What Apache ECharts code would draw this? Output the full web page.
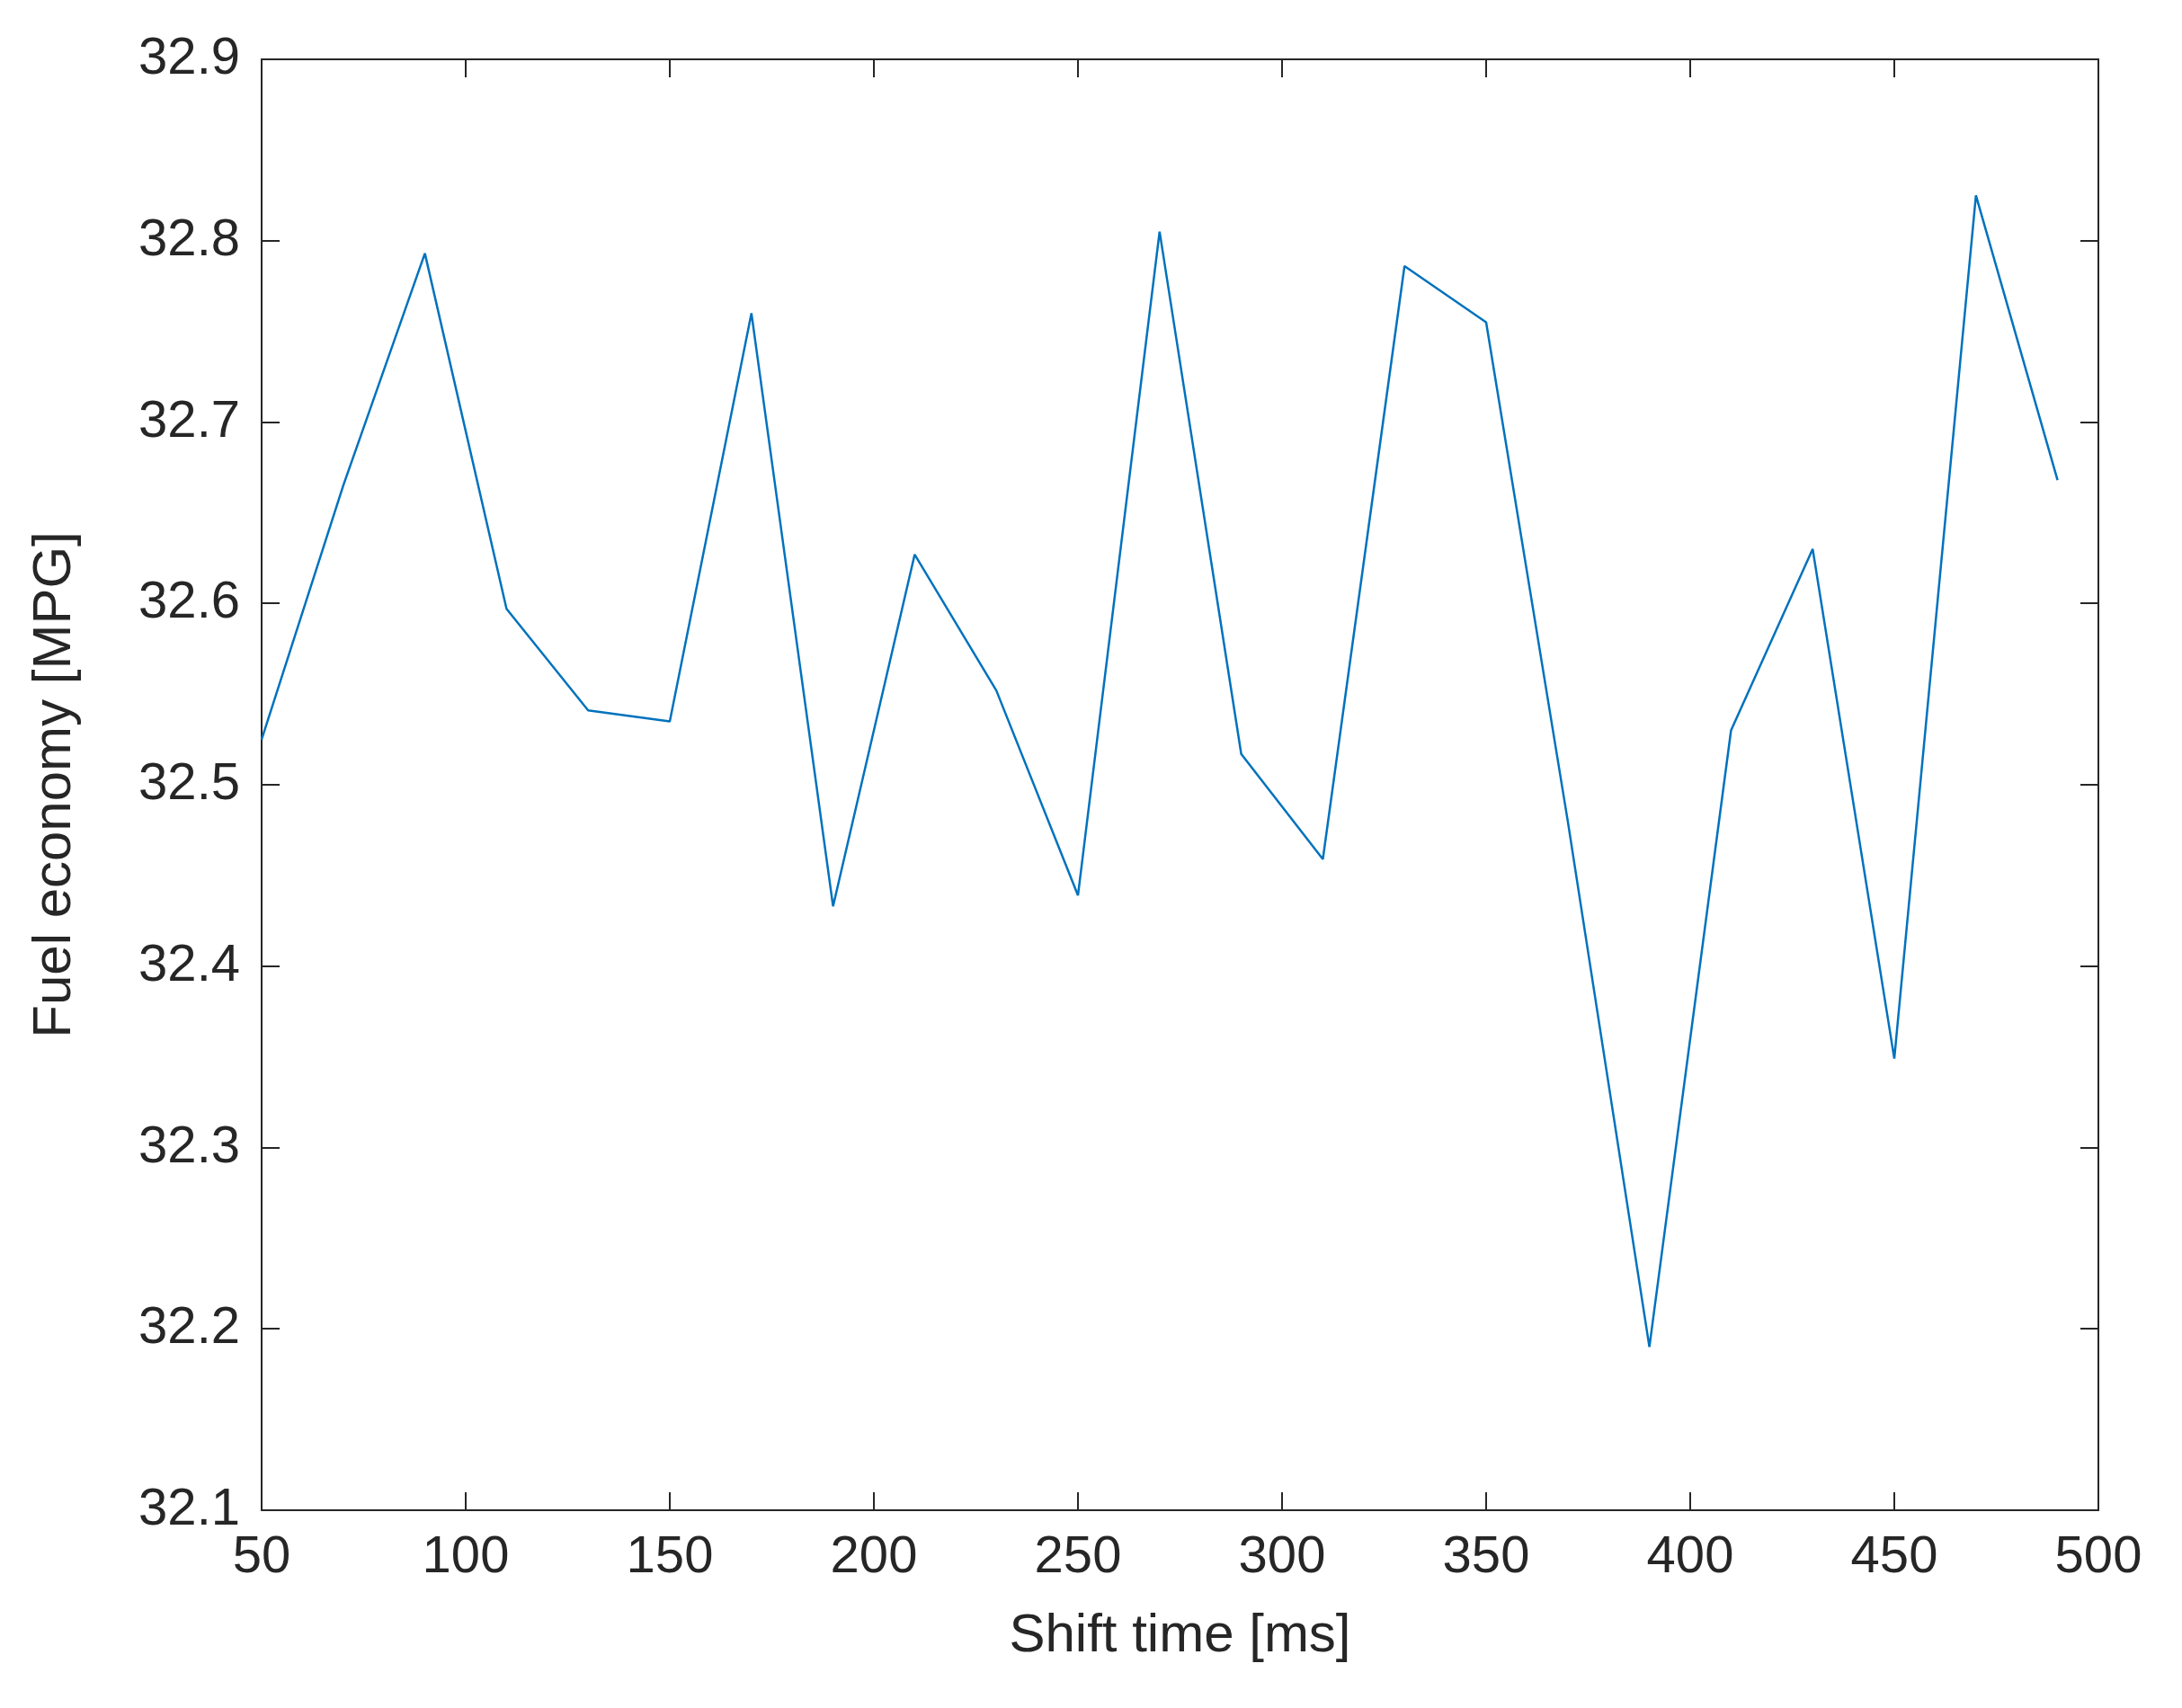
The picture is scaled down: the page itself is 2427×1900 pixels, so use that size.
<!DOCTYPE html>
<html>
<head>
<meta charset="utf-8">
<script src="https://cdn.jsdelivr.net/npm/echarts@6/dist/echarts.min.js"></script>
<style>html,body{margin:0;background:#fff}#main{width:2427px;height:1900px}</style>
</head>
<body>
<div id="main"></div>
<script>
// 换挡时间与油耗数据
const shiftTime = [50, 70, 90, 110, 130, 150, 170, 190, 210, 230, 250, 270, 290, 310, 330, 350, 370, 390, 410, 430, 450, 470, 490];
const fuelEconomy = [32.525, 32.665, 32.793, 32.597, 32.541, 32.535, 32.760, 32.433, 32.627, 32.552, 32.439, 32.805, 32.517, 32.459, 32.786, 32.755, 32.48, 32.190, 32.530, 32.630, 32.349, 32.825, 32.668];

let points = shiftTime.map((t, i) => [t, fuelEconomy[i]]);
let myChart = echarts.init(document.getElementById('main'));

const font = 'Liberation Sans, Arial, sans-serif';
const axisBase = {
    axisLine: { show: true, onZero: false, lineStyle: { color: '#262626', width: 2 } },
    axisTick: { show: true, inside: true, length: 20, lineStyle: { color: '#262626', width: 2 } },
    splitLine: { show: false }
};

let option = {
    animation: false,
    grid: { left: 291, right: 93, top: 66, bottom: 220 },
    xAxis: [
        Object.assign({}, axisBase, {
            type: 'value', min: 50, max: 500, interval: 50,
            name: 'Shift time [ms]', nameLocation: 'middle', nameGap: 110,
            nameTextStyle: { fontSize: 60, color: '#262626', fontFamily: font },
            axisLabel: { fontSize: 58, color: '#262626', fontFamily: font, margin: 24 }
        }),
        Object.assign({}, axisBase, {
            type: 'value', position: 'top', min: 50, max: 500, interval: 50,
            axisLabel: { show: false }
        })
    ],
    yAxis: [
        Object.assign({}, axisBase, {
            type: 'value', min: 32.1, max: 32.9, interval: 0.1,
            name: 'Fuel economy [MPG]', nameLocation: 'middle', nameGap: 200,
            nameTextStyle: { fontSize: 60, color: '#262626', fontFamily: font },
            axisLabel: { fontSize: 58, color: '#262626', fontFamily: font, margin: 24,
                formatter: v => v.toFixed(1) }
        }),
        Object.assign({}, axisBase, {
            type: 'value', position: 'right', min: 32.1, max: 32.9, interval: 0.1,
            axisLabel: { show: false }
        })
    ],
    series: [{
        type: 'line',
        data: points,
        showSymbol: false,
        lineStyle: { color: '#0072BD', width: 2.5 }
    }]
};

myChart.setOption(option);
</script>
</body>
</html>
